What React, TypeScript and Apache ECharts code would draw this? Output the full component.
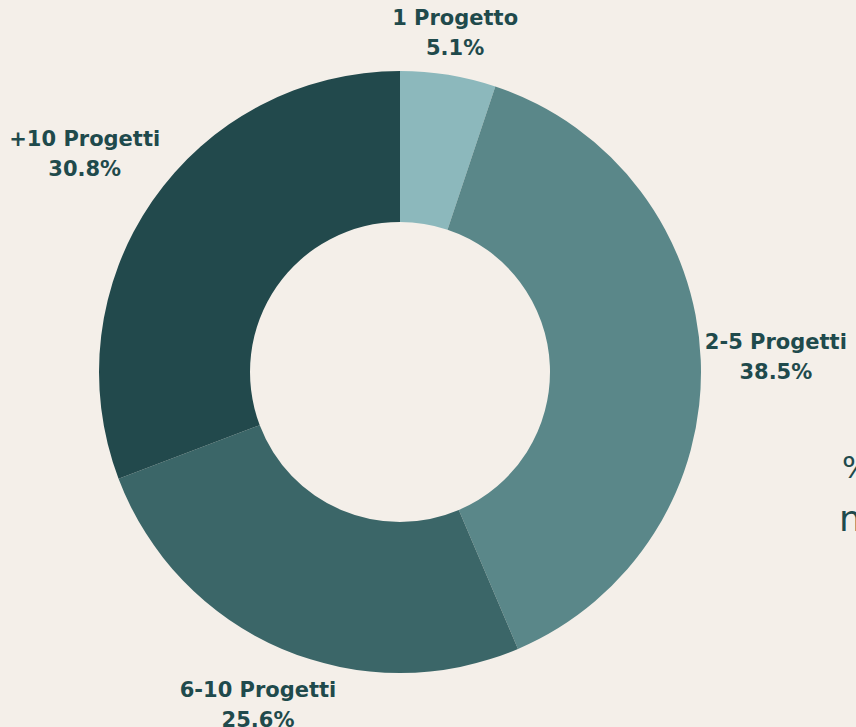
import React, { useEffect, useRef } from "react";
import * as echarts from "echarts";

const categories = ["1 Progetto", "2-5 Progetti", "6-10 Progetti", "+10 Progetti"];
const values = [2, 15, 10, 12];
const colors = ["#8cb8bc", "#5a8789", "#3b6668", "#22494c"];
const sideTexts = ["%", "n"];

const W = 856;
const H = 727;
const CX = 400;
const CY = 372;
const R_IN = 150;
const R_OUT = 301;
const GAP = 3;
const TEXT = "#1f4a4c";

export default function App() {
  const ref = useRef<HTMLDivElement>(null);
  useEffect(() => {
    document.body.style.margin = "0";
    const chart = echarts.init(ref.current!, null, { renderer: "svg" });
    const total = values.reduce((a, b) => a + b, 0);
    const mids: number[] = [];
    let cum = 0;
    values.forEach((v) => {
      mids.push(((cum + v / 2) / total) * 2 * Math.PI);
      cum += v;
    });
    chart.setOption({
      animation: false,
      backgroundColor: "#f4efe9",
      graphic: [
        {
          type: "text",
          left: 842,
          top: 451,
          style: { text: sideTexts[0], fill: TEXT, font: "31px 'DejaVu Sans'" },
        },
        {
          type: "text",
          left: 839,
          top: 500,
          style: { text: sideTexts[1], fill: TEXT, font: "36px 'DejaVu Sans'" },
        },
      ],
      series: [
        {
          type: "pie",
          center: [CX, CY],
          radius: [R_IN, R_OUT],
          startAngle: 90,
          clockwise: true,
          percentPrecision: 1,
          avoidLabelOverlap: false,
          data: categories.map((c, i) => ({
            name: c,
            value: values[i],
            itemStyle: { color: colors[i] },
          })),
          itemStyle: { borderWidth: 0 },
          label: {
            show: true,
            position: "outside",
            formatter: "{b}\n{d}%",
            color: TEXT,
            fontFamily: "DejaVu Sans",
            fontWeight: "bold",
            fontSize: 21,
            lineHeight: 30,
            align: "center",
          },
          labelLine: { show: false },
          emphasis: { disabled: true },
          labelLayout: (p: any) => {
            const a = mids[p.dataIndex];
            const s = Math.sin(a);
            const c = Math.cos(a);
            const w = p.labelRect.width;
            const h = p.labelRect.height;
            const t = R_OUT + GAP + (w / 2) * Math.abs(s) + (h / 2) * Math.abs(c);
            return {
              x: CX + t * s,
              y: CY - t * c,
              align: "center",
              verticalAlign: "middle",
            };
          },
        },
      ],
    });
    return () => chart.dispose();
  }, []);
  return <div ref={ref} style={{ width: W, height: H }} />;
}
